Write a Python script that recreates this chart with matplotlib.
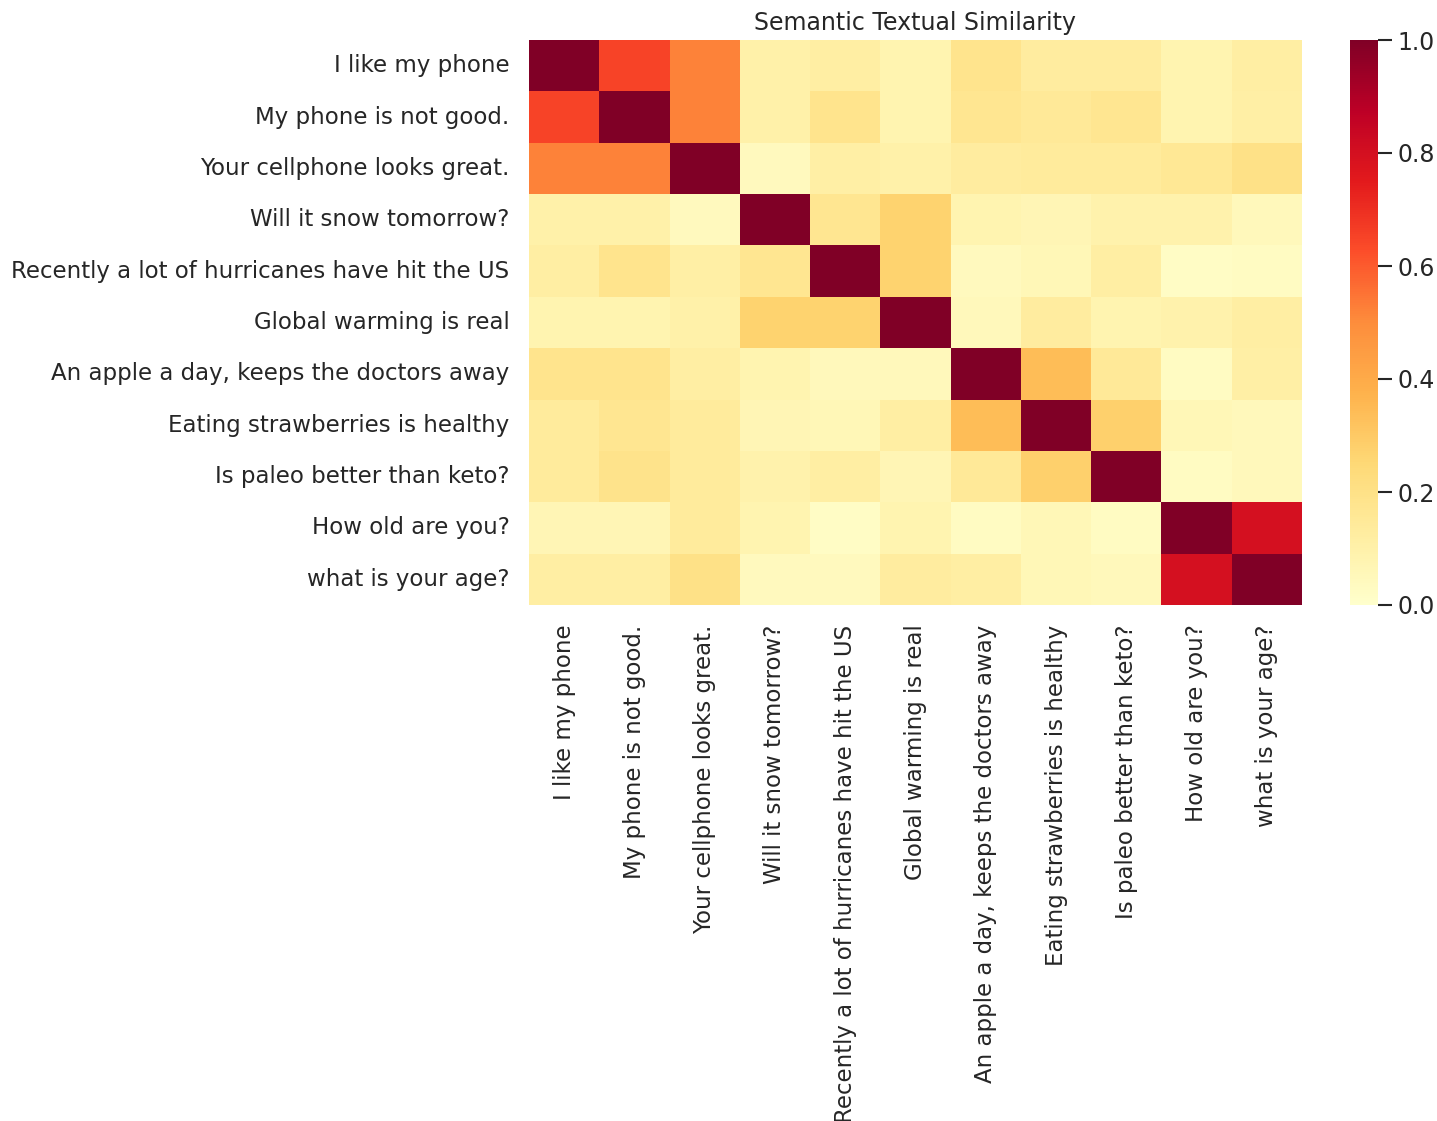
import numpy as np
import matplotlib
matplotlib.use('Agg')
import matplotlib.pyplot as plt
import seaborn as sns

sentences = ['I like my phone',
             'My phone is not good.',
             'Your cellphone looks great.',
             'Will it snow tomorrow?',
             'Recently a lot of hurricanes have hit the US',
             'Global warming is real',
             'An apple a day, keeps the doctors away',
             'Eating strawberries is healthy',
             'Is paleo better than keto?',
             'How old are you?',
             'what is your age?']

# similarity values
row0 = [1.00, 0.65, 0.52, 0.10, 0.12, 0.08, 0.18, 0.13, 0.13, 0.08, 0.12]
row1 = [0.65, 1.00, 0.52, 0.10, 0.18, 0.08, 0.17, 0.15, 0.17, 0.08, 0.11]
row2 = [0.52, 0.52, 1.00, 0.04, 0.11, 0.10, 0.13, 0.14, 0.14, 0.16, 0.20]
row3 = [0.10, 0.10, 0.04, 1.00, 0.17, 0.27, 0.08, 0.07, 0.09, 0.09, 0.05]
row4 = [0.12, 0.18, 0.11, 0.17, 1.00, 0.27, 0.04, 0.06, 0.12, 0.02, 0.03]
row5 = [0.08, 0.08, 0.10, 0.27, 0.27, 1.00, 0.05, 0.13, 0.08, 0.09, 0.12]
row6 = [0.18, 0.18, 0.12, 0.08, 0.05, 0.05, 1.00, 0.34, 0.15, 0.03, 0.11]
row7 = [0.14, 0.17, 0.14, 0.07, 0.06, 0.12, 0.34, 1.00, 0.28, 0.06, 0.05]
row8 = [0.14, 0.19, 0.14, 0.09, 0.12, 0.07, 0.15, 0.28, 1.00, 0.03, 0.05]
row9 = [0.07, 0.07, 0.14, 0.08, 0.02, 0.08, 0.03, 0.06, 0.03, 1.00, 0.80]
row10 = [0.12, 0.12, 0.20, 0.04, 0.04, 0.13, 0.12, 0.06, 0.05, 0.80, 1.00]

corr = np.array([row0, row1, row2, row3, row4, row5, row6, row7, row8, row9, row10])

sns.set_theme(style='white', context='notebook')
fig = plt.figure(figsize=(14.37, 11.21), dpi=100)
ax = fig.add_axes([529/1437, 1 - 605/1121, (1302-529)/1437, (605-40)/1121])
cax = fig.add_axes([1350/1437, 1 - 605/1121, 28/1437, (605-40)/1121])

sns.heatmap(corr, xticklabels=sentences, yticklabels=sentences, vmin=0, vmax=1,
            cmap='YlOrRd', ax=ax, cbar_ax=cax)
ax.set_xticklabels(sentences, rotation=90, fontsize=16.5, color='#262626')
ax.set_yticklabels(sentences, rotation=0, fontsize=16.5, color='#262626')
ax.tick_params(axis='x', length=0, pad=14)
ax.tick_params(axis='y', length=0, pad=14)
ax.set_title('Semantic Textual Similarity', fontsize=17, color='#262626', pad=7)
cax.tick_params(labelsize=17, length=10, width=1.5, colors='#262626', pad=4)
cax.set_yticks([0.0, 0.2, 0.4, 0.6, 0.8, 1.0])
plt.savefig('out.png', dpi=100)
